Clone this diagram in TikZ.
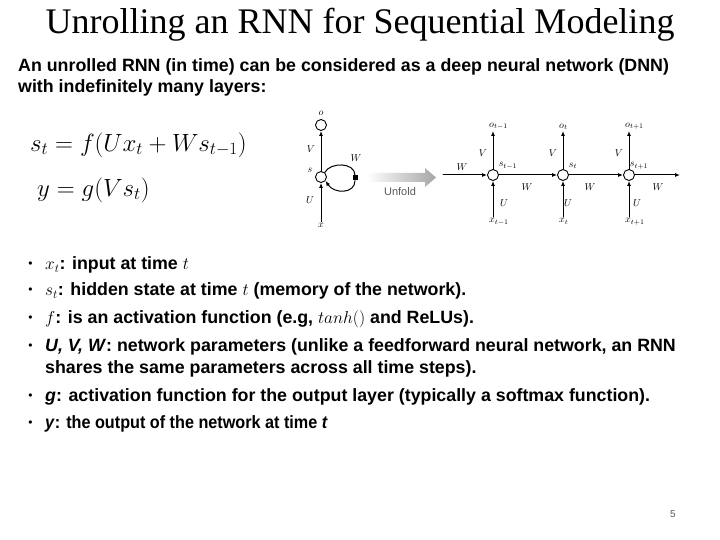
\documentclass[tikz,border=0pt]{standalone}
\usepackage{fontspec}
\setmainfont{Liberation Serif}
\setsansfont{Liberation Sans}
\newfontfamily\narrowsans[FakeStretch=0.91]{Liberation Sans}
\usetikzlibrary{arrows.meta,calc,positioning}
\definecolor{slideInk}{HTML}{000000}
\definecolor{slideGray}{HTML}{595959}
\definecolor{unfoldGray}{HTML}{A6A6A6}

\begin{document}
\begin{tikzpicture}[x=1pt,y=-1pt,>={Latex[length=5pt,width=4pt]},line cap=round,line join=round]
\path[fill=white] (0,0) rectangle (720,540);
\tikzset{body/.style={anchor=west,inner sep=0pt,text=slideInk,font=\sffamily\bfseries\fontsize{17.8}{21}\selectfont},
  item/.style={body,label={[font=\sffamily\fontsize{12}{12}\selectfont,label distance=9pt]west:\textbullet}},
  cell/.style={draw,circle,minimum size=11pt,inner sep=0pt,line width=0.9pt},
  lab/.style={inner sep=1pt,font=\fontsize{10}{10}\selectfont},
  wire/.style={draw,line width=1pt,->}}
\node[font=\fontsize{36}{40}\selectfont] (title) at (360,25) {Unrolling an RNN for Sequential Modeling};
\node[body,align=left] (intro) at (18,77) {An unrolled RNN (in time) can be considered as a deep neural network (DNN)\\with indefinitely many layers:};
\node[anchor=west,inner sep=0pt,font=\fontsize{23}{23}\selectfont] (eqs) at (30,145) {$s_t = f(Ux_t + Ws_{t-1})$};
\node[anchor=west,inner sep=0pt,font=\fontsize{23}{23}\selectfont] (eqy) at (37,190) {$y = g(Vs_t)$};
% folded network
\node[cell] (o) at (321,125) {};
\node[cell] (s) at (321,177) {};
\node[lab] (ol) at (321,113) {$o$};
\node[lab] (xl) at (321,225) {$x$};
\node[lab] at (311,149) {$V$};
\node[lab] at (310,170) {$s$};
\node[lab] at (310,200) {$U$};
\node[lab] at (356,158) {$W$};
\node[fill=black,minimum size=5pt,inner sep=0pt] (sq) at (355,178) {};
\draw[wire] (xl) -- (s);
\draw[wire] (s) -- (o);
\draw[line width=1pt] (s.50) .. controls (330,162) and (355,162) .. (sq.north);
\draw[wire] (sq.south) .. controls (355,194) and (334,194) .. (s.-40);
\shade[left color=white,right color=unfoldGray] (367,173) -- (425,173) -- (425,168) -- (436,177.5) -- (425,187) -- (425,182) -- (367,182) -- cycle;
\node[text=slideGray,font=\sffamily\fontsize{11}{11}\selectfont] (unfold) at (400,192) {Unfold};
% unrolled network
\node[cell] (s1) at (493,175) {};
\node[cell] (s2) at (563,175) {};
\node[cell] (s3) at (629,175) {};
\node[lab,anchor=south west] (o1) at (488,131) {$o_{t-1}$};
\node[lab,anchor=south west] (o2) at (558,131) {$o_t$};
\node[lab,anchor=south west] (o3) at (624,131) {$o_{t+1}$};
\node[lab,anchor=north west] (x1) at (488,217) {$x_{t-1}$};
\node[lab,anchor=north west] (x2) at (558,217) {$x_t$};
\node[lab,anchor=north west] (x3) at (624,217) {$x_{t+1}$};
\draw[wire] (s1) -- (s1 |- o1.south);
\draw[wire] (s2) -- (s2 |- o2.south);
\draw[wire] (s3) -- (s3 |- o3.south);
\draw[wire] (s1 |- x1.north) -- (s1);
\draw[wire] (s2 |- x2.north) -- (s2);
\draw[wire] (s3 |- x3.north) -- (s3);
\coordinate (win) at (443,175);
\coordinate (wout) at (680,175);
\draw[wire] (win) -- (s1);
\draw[wire] (s1) -- (s2);
\draw[wire] (s2) -- (s3);
\draw[wire] (s3) -- (wout);
\node[lab] at (462,167) {$W$};
\node[lab] at (527,187) {$W$};
\node[lab] at (590,187) {$W$};
\node[lab] at (658,187) {$W$};
\node[lab] at (483,153) {$V$};
\node[lab] at (553,153) {$V$};
\node[lab] at (619,153) {$V$};
\node[lab] at (508,166) {$s_{t-1}$};
\node[lab] at (573,166) {$s_t$};
\node[lab] at (639,166) {$s_{t+1}$};
\node[lab] at (504,203) {$U$};
\node[lab] at (568,203) {$U$};
\node[lab] at (637,203) {$U$};
% bullets
\node[item] (b1) at (45,265) {$x_t$: input at time $t$};
\node[item] (b2) at (45,291) {$s_t$: hidden state at time $t$ (memory of the network).};
\node[item] (b3) at (45,319) {$f$: is an activation function (e.g, $tanh()$ and ReLUs).};
\node[item] (b4) at (45,347) {\textit{U, V, W}: network parameters (unlike a feedforward neural network, an RNN};
\node[body] (b4b) at (45,369) {shares the same parameters across all time steps).};
\node[item] (b5) at (45,397) {\textit{g}: activation function for the output layer (typically a softmax function).};
\node[item] (b6) at (45,424) {\narrowsans\bfseries\textit{y}: the output of the network at time \textit{t}};
\node[text=slideGray,font=\sffamily\fontsize{10}{10}\selectfont] (page) at (673,514) {5};
\end{tikzpicture}
\end{document}
